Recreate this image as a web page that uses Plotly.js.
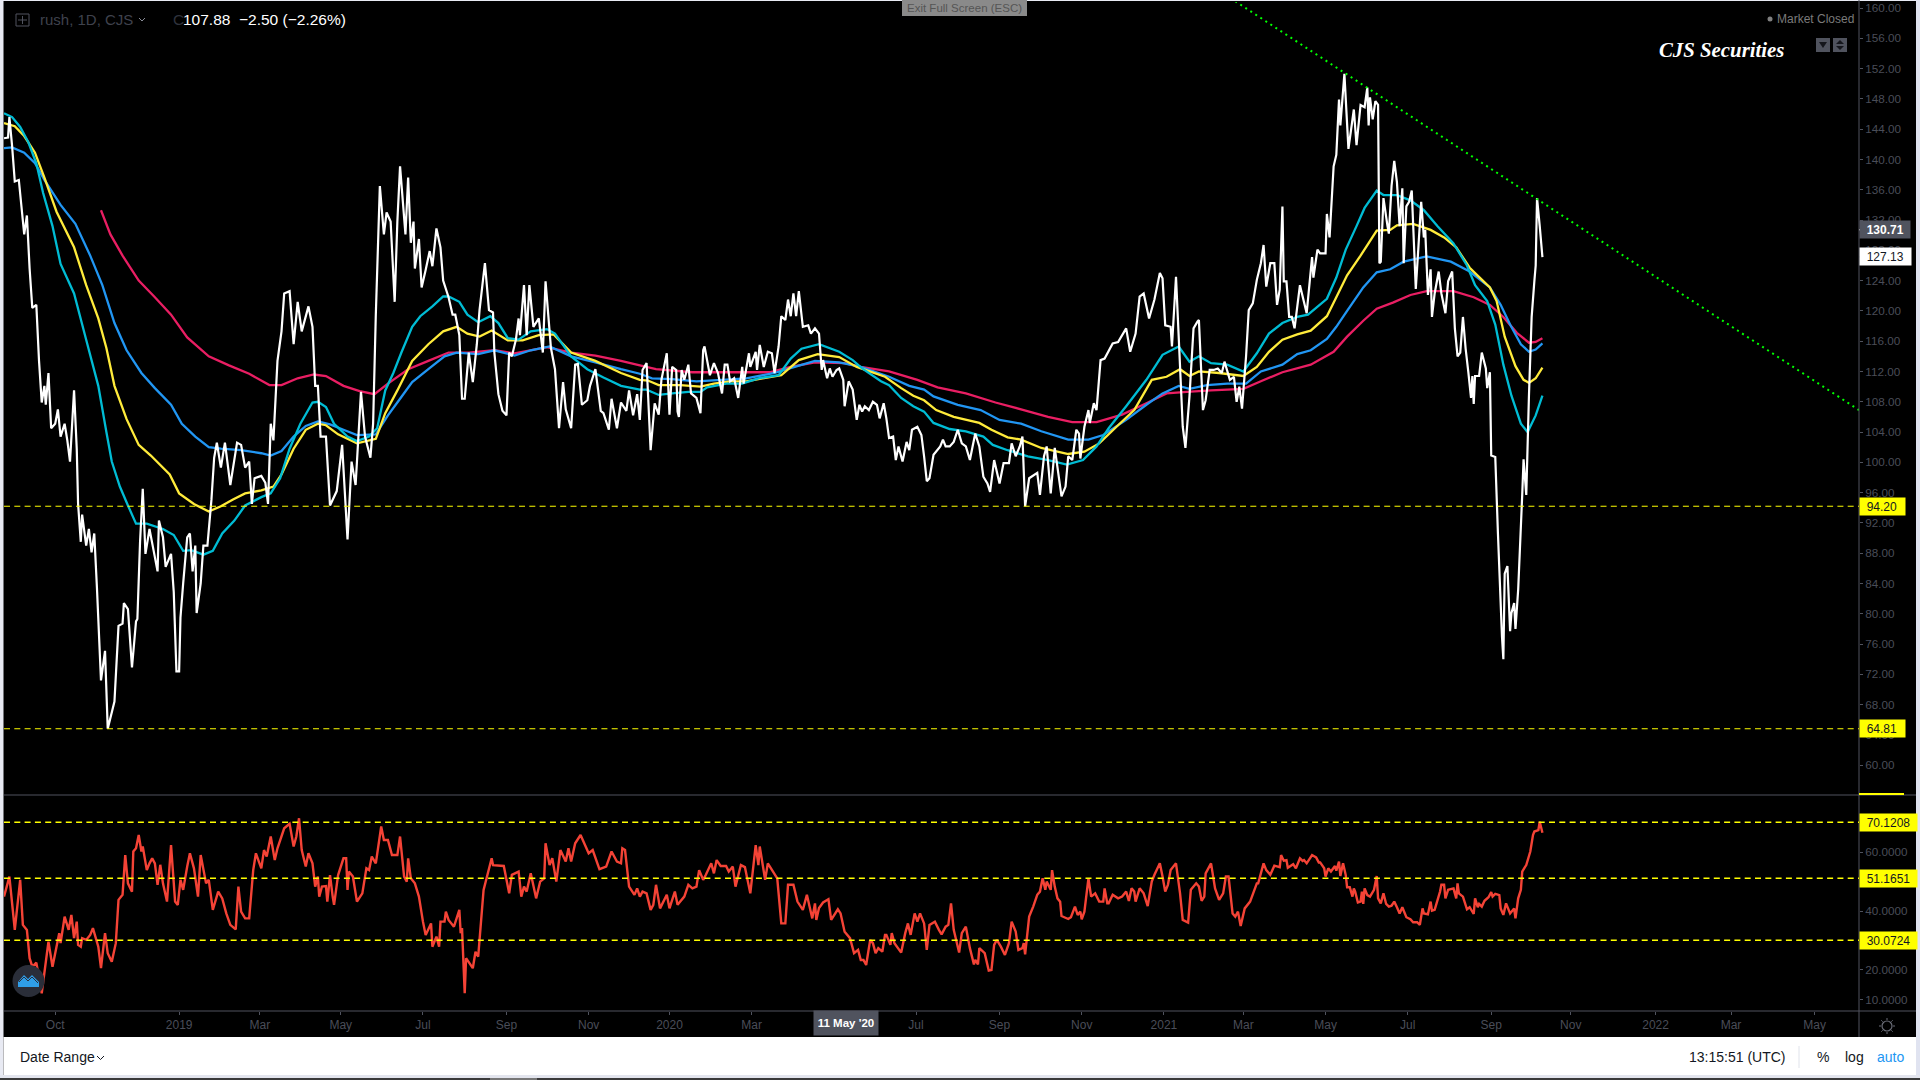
<!DOCTYPE html>
<html><head><meta charset="utf-8">
<script src="https://cdn.plot.ly/plotly-3.0.1.min.js"></script>
<style>html,body{margin:0;padding:0;background:#000;overflow:hidden}#c{width:1920px;height:1080px}</style>
</head><body><div id="c"></div>
<script>
// All day numbers count calendar days from this first date on the chart.
const firstDate = '2018-08-24';
const lastDate = '2022-06-01';

const closeDays = [
0,3,4,6,8,11,15,17,19,21,24,26,28,30,31,33,35,38,40,42,
45,47,49,52,54,55,57,58,61,63,65,67,69,72,75,77,82,85,88,89,
92,95,98,99,101,103,105,108,111,114,115,118,120,124,126,128,130,131,133,136,
138,140,142,143,146,148,151,154,156,158,161,164,168,173,176,179,182,184,186,191,
194,196,198,200,203,206,208,212,215,218,221,226,229,231,233,235,239,242,247,251,
255,258,261,265,268,272,274,276,279,282,284,287,290,292,294,298,300,302,304,305,
308,310,313,316,318,321,324,326,330,333,335,338,340,342,345,348,351,353,357,360,
363,364,367,370,373,375,377,380,382,383,386,388,390,393,397,400,402,406,409,412,
415,417,421,424,426,429,433,435,439,443,445,449,451,455,458,462,464,467,470,
472,474,477,480,483,486,488,492,494,496,499,500,501,503,505,508,510,514,517,519,
520,524,527,530,533,535,537,539,542,545,548,549,553,554,558,559,561,564,567,570,
572,575,577,580,582,584,586,588,590,593,597,599,602,605,607,608,611,613,615,618,
620,623,624,627,630,633,635,637,639,642,645,648,650,653,655,657,660,662,664,667,
670,672,674,678,681,683,685,687,690,695,697,699,702,705,708,711,714,717,719,721,
724,727,730,732,735,739,742,746,748,751,754,756,758,761,767,769,772,774,777,780,
785,788,790,793,796,798,799,802,805,806,809,811,814,817,823,827,833,836,840,843,
846,850,854,858,860,862,866,867,870,874,875,877,880,883,886,887,890,892,895,898,
901,904,906,910,913,915,917,919,922,924,927,930,933,935,937,940,943,945,947,
949,950,952,954,956,958,962,967,971,972,975,977,981,982,984,987,989,991,992,995,
998,1002,1004,1007,1010,1012,1013,1014,1016,1018,1020,1021,1022,1024,1027,1028,1030,1032,1034,1036,
1038,1039,1041,1043,1045,1048,1050,1052,1054,1055,1057,1059,1060,1062,1065,1067,1070,1072,1075,1077,
1079,1081,1083,1085,1087,1089,1090,1091,1092,1095,1097,1100,1101,1103,1104,1107,1109,1112,1113,1114,
1116,1118,1119,1121,1122,1124,1127,1128,1130,1132,1134,1136,1137,1138,1140,1142];
const closeValues = [
142.8,142.9,145.6,141.8,137.1,137.3,130.1,132.6,125.6,120.4,120.8,113.4,107.9,110.1,107.6,111.8,104.5,105.1,107.0,103.4,
105.1,102.9,100.1,109.5,101.8,94.5,89.5,93.1,89.0,91.2,88.1,90.6,83.4,71.2,75.1,64.8,68.4,78.4,78.7,81.4,
80.6,72.9,79.0,79.3,89.5,96.5,87.9,91.2,88.4,85.6,92.3,90.1,86.2,87.9,82.9,72.4,72.4,79.5,84.0,90.1,
90.6,85.6,89.0,80.1,84.0,89.0,89.0,95.1,100.6,102.6,99.3,102.6,97.0,102.6,102.3,99.3,100.1,94.5,97.9,98.2,
97.3,94.5,105.1,102.9,113.4,117.3,122.3,122.6,115.6,121.2,117.3,120.6,117.9,110.1,110.1,103.4,103.4,94.3,96.2,102.3,
89.8,100.1,97.0,109.3,103.4,100.6,105.1,119.5,136.5,130.1,133.0,131.8,121.2,131.8,139.1,130.1,137.6,129.0,131.8,125.6,
129.5,123.1,125.4,127.9,125.9,130.9,128.4,124.0,121.8,119.5,119.5,116.8,108.4,108.4,114.5,110.6,115.6,120.1,126.3,120.1,
119.8,114.5,109.0,106.8,106.2,114.5,114.0,116.2,119.0,116.8,123.4,116.8,123.4,117.9,119.0,114.5,123.9,115.1,112.3,104.5,
110.6,107.0,104.5,112.9,113.0,107.6,108.2,110.1,112.3,106.8,106.5,104.3,108.4,104.5,107.9,106.8,109.5,106.2,109.0,
105.6,112.2,113.1,101.6,107.8,106.3,110.9,114.4,106.3,112.6,112.2,106.7,106.0,112.2,110.9,112.9,109.1,108.5,106.5,114.8,
115.3,111.5,113.1,111.8,109.1,112.9,112.9,110.7,111.1,108.5,112.6,110.4,114.4,112.6,114.6,112.2,115.5,112.6,114.6,114.4,
111.8,115.3,119.3,118.8,121.5,119.3,122.3,119.3,122.6,117.9,118.1,117.0,117.7,117.0,112.2,113.5,111.1,112.4,111.3,112.2,
112.4,110.9,107.4,110.7,109.6,105.6,107.6,106.7,107.4,106.9,108.0,107.6,105.8,107.8,105.8,103.2,103.4,100.3,102.1,100.1,
102.7,101.6,104.3,104.7,103.6,100.8,97.5,97.9,101.0,102.1,103.0,102.1,102.1,102.7,104.3,102.5,102.1,100.3,102.1,103.8,
102.1,98.1,97.2,96.1,100.3,97.2,99.9,99.9,102.5,100.8,102.1,103.4,94.2,97.9,98.6,95.7,100.8,102.1,95.9,101.9,
95.5,96.8,100.8,100.3,104.3,103.8,100.5,104.7,106.9,105.2,107.8,106.9,113.5,113.7,115.7,115.9,117.7,114.6,117.0,121.9,
122.3,119.0,121.5,125.0,124.3,118.1,117.9,115.3,124.5,108.7,104.7,101.9,108.7,117.7,118.6,118.8,106.9,108.2,112.2,112.2,
112.4,111.8,113.3,110.9,111.3,108.0,110.0,107.1,114.0,120.1,121.0,124.1,126.3,128.7,123.2,126.3,126.3,120.8,122.8,
133.8,123.9,123.9,119.2,119.2,117.7,123.4,119.7,127.1,124.4,128.1,127.6,127.6,132.8,129.7,139.1,140.6,147.9,144.5,151.3,
141.4,146.6,141.9,147.2,146.9,149.5,144.5,148.2,145.3,147.7,147.2,126.3,126.5,134.9,131.2,130.2,136.5,139.8,137.0,131.2,
136.2,126.3,133.8,134.4,135.9,122.9,128.6,134.4,129.7,130.7,122.1,125.5,119.2,122.3,125.2,122.3,119.7,123.9,125.2,117.7,
114.0,114.5,119.2,115.0,111.9,108.5,111.4,107.7,111.4,111.4,114.5,112.4,109.8,111.9,100.9,100.7,90.5,76.9,74.0,85.3,
86.3,77.7,80.1,81.4,78.0,83.2,95.7,100.4,95.7,108.8,119.2,123.9,126.0,134.9,131.2,127.1];

const cyanDays = [0,6,12,18,24,29,36,42,52,61,70,76,80,86,92,98,106,118,126,133,139,148,155,162,171,179,191,198,205,212,220,229,233,239,245,255,262,271,277,283,289,295,303,309,318,326,330,338,344,352,361,367,374,382,391,403,409,421,433,445,458,472,477,486,496,508,517,522,536,548,560,575,584,592,605,620,630,637,651,657,666,675,683,690,702,714,727,734,745,760,775,789,801,811,820,833,848,860,872,880,887,896,908,920,930,939,949,960,968,982,989,996,1004,1010,1019,1024,1034,1044,1054,1064,1076,1086,1092,1101,1107,1113,1119,1126,1131,1137,1142];
const cyanValues = [146.1,145.6,144.3,142.3,139.5,135.6,131.2,126.2,122.3,116.2,110.1,104.0,100.1,96.8,94.3,91.9,91.9,91.2,90.4,88.3,88.4,87.8,88.3,90.6,92.3,94.3,95.4,95.9,97.9,101.8,105.1,107.9,108.0,107.3,105.1,103.4,102.8,103.4,104.5,109.5,111.8,114.5,117.9,119.3,120.6,121.9,121.9,121.2,119.5,118.5,119.3,118.4,116.4,116.2,117.3,117.6,117.0,114.0,112.3,111.2,110.1,109.6,109.6,108.9,109.1,109.3,109.3,109.9,110.4,110.4,111.1,111.5,113.7,115.0,115.6,114.6,113.5,112.4,110.7,110.2,108.5,107.4,106.7,105.2,104.4,104.1,103.4,102.3,101.6,100.8,100.3,99.7,100.3,102.1,104.5,107.4,110.9,114.2,115.3,113.3,114.0,113.1,112.9,112.0,114.4,117.0,118.4,119.2,119.5,121.6,124.4,128.1,131.2,133.6,135.9,135.3,135.3,134.6,133.3,131.2,128.9,126.0,123.4,121.3,118.2,112.9,108.8,105.1,104.0,106.2,108.8];

const yellowDays = [0,8,15,23,30,39,52,61,70,76,82,91,100,109,123,130,141,152,161,170,179,191,200,206,215,224,233,239,248,262,276,283,292,303,315,326,336,344,353,362,374,385,397,408,421,439,458,472,478,486,502,517,527,539,551,563,577,590,604,620,633,654,666,675,683,692,705,724,733,745,755,770,790,802,813,827,839,852,863,873,880,887,902,920,930,939,949,960,970,982,989,997,1007,1019,1029,1034,1046,1059,1069,1078,1088,1096,1103,1108,1114,1122,1128,1132,1137,1142];
const yellowValues = [144.8,144.4,143.1,140.9,137.6,133.1,128.4,123.4,119.0,115.1,110.1,105.7,102.3,100.9,98.4,95.9,94.5,93.5,94.2,95.1,95.9,96.3,96.8,98.4,101.8,104.3,105.1,104.9,103.7,102.5,103.1,106.5,109.5,113.4,115.6,117.3,117.9,117.0,116.6,117.4,116.1,116.1,116.8,116.9,114.5,113.4,111.8,110.9,110.8,110.2,110.2,110.0,110.4,110.7,110.7,111.1,111.5,113.5,114.3,113.9,112.6,111.3,109.8,108.8,108.2,106.9,106.0,105.2,104.3,103.3,103.0,101.9,101.1,101.4,102.5,104.9,106.9,110.9,111.3,112.3,111.4,112.0,111.8,111.4,112.6,114.6,116.2,116.9,117.4,119.3,121.8,124.7,127.3,130.6,130.7,131.3,131.5,130.7,129.7,128.4,125.7,124.3,123.1,121.3,116.6,112.7,110.9,110.5,111.1,112.5];

const blueDays = [0,6,15,23,30,42,53,64,73,82,91,102,112,124,132,142,152,161,176,191,198,206,215,224,233,242,252,262,276,285,294,303,315,327,336,352,364,379,391,405,421,439,458,472,481,496,514,533,551,572,587,602,620,636,657,672,683,690,708,725,739,755,770,790,805,816,833,848,860,872,880,893,908,922,933,949,960,970,982,989,997,1009,1019,1029,1039,1056,1074,1088,1103,1111,1118,1126,1132,1137,1142];
const blueValues = [141.5,141.6,140.9,139.5,137.3,134.0,131.5,127.3,123.4,118.4,114.8,111.8,109.8,107.6,105.1,103.4,102.0,101.8,101.6,101.2,100.9,101.5,103.4,104.8,105.4,105.0,104.3,103.6,103.7,106.2,108.4,110.6,112.3,114.0,114.5,114.3,114.8,114.1,114.8,115.3,114.0,113.2,112.3,111.7,111.1,111.0,110.7,110.9,111.1,111.8,112.6,113.4,113.2,112.6,111.3,110.1,109.6,108.7,107.6,106.9,105.6,105.1,104.1,103.0,103.0,103.6,105.6,107.6,109.1,110.1,109.7,110.2,110.4,110.4,112.0,112.9,114.3,114.8,116.3,117.9,120.0,123.1,125.1,125.5,126.5,127.2,126.5,125.2,123.1,120.8,118.2,115.6,114.6,114.9,115.7];

const pinkDays = [72,79,88,100,112,124,136,152,167,182,197,206,218,230,239,252,264,275,285,300,315,330,345,364,379,403,421,439,458,472,484,511,542,569,584,602,624,636,657,678,693,714,736,757,775,793,811,830,848,863,878,896,920,933,949,970,987,997,1009,1019,1031,1044,1056,1076,1091,1103,1113,1123,1132,1137,1142];
const pinkValues = [133.3,130.1,127.3,124.0,121.8,119.5,116.5,114.0,112.8,111.7,110.2,110.2,111.1,111.6,111.4,110.1,109.4,109.0,110.4,112.3,113.4,114.5,114.5,114.8,114.4,115.2,114.5,114.1,113.4,112.8,112.3,111.9,111.9,111.9,112.6,113.2,113.1,112.6,112.0,110.9,109.9,109.1,107.9,106.9,106.0,105.3,105.3,106.3,107.8,109.1,109.3,109.5,109.7,110.7,111.9,112.9,114.6,116.6,118.7,120.3,121.1,122.1,122.6,122.6,121.8,120.8,119.2,117.1,115.8,115.9,116.4];

const rsiDays = [
0,4,8,12,14,17,19,21,24,28,33,36,41,42,45,48,50,52,54,55,57,58,61,64,66,70,72,75,77,80,
83,85,88,90,92,95,96,98,100,102,103,106,108,110,112,114,116,118,121,124,127,129,131,133,136,138,141,144,146,150,
152,155,159,162,165,168,172,174,176,179,182,185,187,191,193,195,198,201,203,208,212,215,217,219,221,224,226,229,231,233,
234,236,239,240,242,244,245,248,252,254,255,256,259,262,266,269,271,273,276,280,282,285,288,292,294,297,299,300,302,305,
308,311,313,317,318,321,323,324,327,328,330,334,338,339,340,342,343,348,350,352,356,362,363,371,375,377,382,384,386,388,
391,395,398,401,402,405,407,410,413,417,419,421,424,428,434,437,442,447,451,455,458,459,461,464,468,470,472,
474,477,480,482,484,487,492,494,496,498,500,505,508,511,514,516,519,521,525,527,529,532,536,538,541,543,547,550,554,
558,560,561,565,567,574,577,580,582,586,589,593,596,600,602,603,605,608,612,614,619,621,624,628,631,634,636,638,640,643,
645,647,649,652,654,655,658,659,661,666,669,671,673,676,678,680,683,685,687,691,694,696,699,701,703,705,709,711,714,717,
720,721,723,724,728,731,733,735,737,740,743,746,748,751,753,756,757,758,761,764,767,769,771,773,774,777,778,780,782,784,
785,790,792,795,797,799,800,802,805,807,810,813,816,817,819,820,823,827,830,833,835,837,839,840,843,846,849,852,854,858,
860,862,864,866,870,873,875,879,881,885,887,889,891,892,896,899,902,905,907,909,912,914,916,918,921,925,930,931,935,937,
940,943,947,948,950,952,953,957,959,962,964,965,967,971,974,976,977,980,981,983,985,988,989,991,992,994,996,997,999,1001,
1002,1003,1005,1007,1008,1009,1010,1012,1014,1017,1019,1020,1022,1024,1026,1028,1030,1032,1034,1036,1038,1041,1044,1046,1049,1051,1053,1054,1057,1059,
1060,1062,1066,1067,1069,1070,1072,1076,1078,1079,1080,1083,1086,1088,1091,1092,1094,1095,1097,1099,1102,1104,1105,1107,1110,1111,1113,1115,1118,1121,
1122,1124,1126,1127,1129,1130,1133,1135,1136,1139,1140,1142];
const rsiValues = [
44.9,51.7,33.6,50.6,35.3,33.6,24.0,21.1,22.5,12.1,29.6,21.1,32.5,29.1,38.1,33.6,38.7,30.8,36.4,28.5,27.9,30.8,30.2,31.9,34.2,27.9,20.6,32.5,25.7,22.8,
29.1,43.8,45.5,59.0,49.4,46.6,60.2,61.3,65.8,60.2,61.9,53.9,56.2,57.9,56.2,48.9,55.7,49.4,43.2,62.4,43.2,42.1,50.6,47.2,55.1,59.6,54.5,44.9,59.0,49.4,
50.6,40.4,46.6,44.3,39.2,35.3,33.8,48.3,39.8,37.5,37.5,53.9,59.6,54.5,60.7,58.5,65.3,57.3,61.3,68.1,69.6,61.9,65.3,71.5,60.7,55.1,59.6,56.2,48.3,51.7,
44.9,48.3,48.5,43.2,52.2,44.9,42.1,52.2,57.9,57.9,47.2,53.4,51.7,43.2,46.0,54.5,53.9,58.5,56.2,68.7,64.1,64.1,59.0,59.0,65.3,51.7,50.0,57.9,51.1,49.4,
44.9,36.4,31.9,35.8,27.9,31.3,27.9,36.4,36.4,39.8,37.0,34.7,40.4,32.5,34.2,12.1,24.0,20.6,26.2,24.5,47.2,57.9,55.6,55.3,46.0,52.3,53.4,44.9,48.3,46.6,
52.8,44.3,50.0,51.1,63.0,55.6,57.9,50.0,60.7,56.8,61.3,56.8,63.0,65.8,59.6,60.7,54.2,55.1,60.2,56.8,56.2,61.3,60.7,48.3,45.5,47.7,44.9,
46.6,46.0,40.4,42.1,48.9,40.9,45.5,40.9,43.8,46.6,42.1,44.9,48.9,47.7,48.3,53.9,50.6,52.3,56.2,52.8,57.3,55.3,55.3,53.4,55.1,48.3,55.6,54.9,46.0,
62.4,55.6,61.9,50.6,56.2,51.1,35.8,35.8,48.9,48.9,43.2,40.4,45.5,37.5,42.6,37.0,41.0,42.9,44.0,37.0,40.6,39.2,33.0,30.8,25.7,26.8,23.4,23.4,21.7,30.2,
29.1,25.7,27.4,26.2,31.9,31.9,28.5,32.5,29.1,25.9,32.5,35.8,31.9,39.2,36.4,39.2,35.8,26.8,35.3,36.4,33.6,32.1,34.7,35.3,42.6,33.6,25.9,32.5,34.7,27.4,
21.9,23.4,21.9,27.4,25.7,19.8,20.0,28.5,30.2,27.9,25.1,29.1,36.4,33.0,26.8,27.4,29.1,25.3,38.1,41.5,45.5,46.6,51.1,47.2,50.0,47.2,53.9,48.3,44.3,43.2,
38.3,37.3,37.9,41.5,38.7,39.8,37.2,39.8,51.1,44.9,46.0,43.2,43.2,47.7,42.6,42.6,45.5,44.3,44.9,46.6,43.4,47.7,46.6,43.2,47.7,46.0,41.7,50.0,52.3,56.2,
51.7,46.6,48.9,53.9,56.2,46.0,37.0,36.1,47.2,49.4,48.3,43.5,44.9,52.8,56.2,47.7,43.8,46.0,51.7,51.7,39.2,38.1,39.8,34.9,40.9,43.2,49.4,49.4,56.2,53.9,
52.3,55.4,54.9,59.0,57.1,57.3,54.7,55.9,54.5,57.9,57.0,57.3,56.2,59.0,58.2,56.5,56.5,54.5,51.7,54.5,53.4,55.3,53.7,56.8,51.9,56.2,52.2,48.1,48.1,44.9,
47.7,46.6,42.9,43.2,46.6,42.4,47.7,45.4,44.9,47.2,51.9,44.3,42.6,46.0,42.4,41.5,41.8,43.2,41.3,39.2,41.3,37.9,37.2,36.2,36.2,35.3,40.9,39.2,38.9,43.2,
40.1,40.4,46.6,48.9,48.9,44.3,47.2,47.7,44.3,49.4,46.0,44.9,40.6,41.3,39.0,44.3,41.3,42.4,41.5,43.5,44.7,46.4,44.9,45.8,45.4,40.9,38.7,42.6,39.2,40.9,
37.5,44.3,47.2,53.4,54.9,55.6,60.2,65.8,67.0,67.5,70.3,66.6];

const trendDays = [914,1377];
const trendValues = [160.9,106.9];

const priceLevels = [94.20,64.81];
const rsiLevels = [70.1208,51.1651,30.0724];
const priceTicks = [60,64,68,72,76,80,84,88,92,96,100,104,108,112,116,120,124,128,132,136,140,144,148,152,156,160];
const rsiTicks = [10,20,40,60];
const timeTicks = ['2018-10-01','2019-01-01','2019-03-02','2019-05-01','2019-07-01','2019-09-01','2019-11-01','2019-12-31','2020-03-01','2020-07-01','2020-09-01','2020-11-01','2021-01-01','2021-03-01','2021-05-01','2021-07-01','2021-09-01','2021-10-30','2022-01-01','2022-02-26','2022-04-29'];
const timeLabels = ['Oct','2019','Mar','May','Jul','Sep','Nov','2020','Mar','Jul','Sep','Nov','2021','Mar','May','Jul','Sep','Nov','2022','Mar','May'];

const W=1920,H=1080;
const px=v=>v/W, py=v=>1-v/H;
const base=Date.parse(firstDate+'T00:00:00Z');
const toDate=d=>new Date(base+d*86400000).toISOString().slice(0,10);
const AXIS='#50535e', TXT='#4a4d58';
const SANS='"Liberation Sans", Arial, sans-serif';
const PANE_L=px(4), PANE_R=px(1859);

function line(days,vals,color,width,yaxis,extra){
  return Object.assign({type:'scatter',mode:'lines',x:days.map(toDate),y:vals,yaxis:yaxis,xaxis:'x',
    line:Object.assign({color:color,width:width,simplify:false},extra||{}),hoverinfo:'skip',showlegend:false});
}
const traces=[
  line(pinkDays,pinkValues,'#e91e63',2.3,'y'),
  line(blueDays,blueValues,'#2196f3',2.3,'y'),
  line(yellowDays,yellowValues,'#ffeb3b',2.3,'y'),
  line(cyanDays,cyanValues,'#00bcd4',2.3,'y'),
  line(closeDays,closeValues,'#ffffff',2.2,'y'),
  line(trendDays,trendValues,'#00ff00',2,'y',{dash:'2px,4px'}),
  line(rsiDays,rsiValues,'#f44336',2.4,'y2')
];

// decoration
const shapes=[];
const rect=(x0,y0,x1,y1,fill,extra)=>shapes.push(Object.assign({type:'rect',xref:'paper',yref:'paper',x0:px(x0),x1:px(x1),y0:py(y0),y1:py(y1),fillcolor:fill,line:{width:0},layer:'above'},extra||{}));
const seg=(x0,y0,x1,y1,color,w)=>shapes.push({type:'line',xref:'paper',yref:'paper',x0:px(x0),x1:px(x1),y0:py(y0),y1:py(y1),line:{color:color,width:w||1},layer:'above'});
const poly=(pts,fill,stroke,w)=>shapes.push({type:'path',xref:'paper',yref:'paper',path:'M'+pts.map(p=>px(p[0])+','+py(p[1])).join('L')+(fill?'Z':''),fillcolor:fill||'rgba(0,0,0,0)',line:{color:stroke||'rgba(0,0,0,0)',width:w||0},layer:'above'});
const circ=(cx,cy,r,fill,stroke,w)=>shapes.push({type:'circle',xref:'paper',yref:'paper',x0:px(cx-r),x1:px(cx+r),y0:py(cy+r),y1:py(cy-r),fillcolor:fill,line:{color:stroke||'rgba(0,0,0,0)',width:w||0},layer:'above'});

rect(0,0,3.5,1080,'#e8eaf3');
rect(0,0,1920,1,'#e8eaf3');
rect(1916,0,1920,1080,'#e0e3f0');
rect(3.5,1037,1916,1075,'#ffffff');
rect(0,1075,1920,1078,'#e3e5ee');
rect(0,1078,1920,1080,'#3a3a3a');
rect(490,1078,537,1080,'#777777');
seg(1859,0,1859,1037,AXIS,1);
seg(4,795,1916,795,AXIS,1);
seg(4,1011,1916,1011,AXIS,1);
seg(1799,1046,1799,1068,'#e0e3eb',1);
rect(1859,793,1904,795,'#ffff00');
// level lines
priceLevels.forEach(v=>shapes.push({type:'line',xref:'paper',yref:'y',x0:PANE_L,x1:PANE_R,y0:v,y1:v,line:{color:'#ffff00',width:1,dash:'6px,4.3px'},layer:'above'}));
rsiLevels.forEach(v=>shapes.push({type:'line',xref:'paper',yref:'y2',x0:PANE_L,x1:PANE_R,y0:v,y1:v,line:{color:'#ffff00',width:1.5,dash:'6px,4.3px'},layer:'above'}));
// layout icon top-left
rect(16,14,29,26,'rgba(0,0,0,0)',{line:{color:'#50535e',width:1}});
seg(22.5,16,22.5,24,'#50535e',1); seg(18,20,27,20,'#50535e',1);
seg(139,18,142,21,'#8a8d98',1); seg(142,21,145,18,'#8a8d98',1);
// pane buttons
rect(1816,38,1830,52,'#50535e'); rect(1833,38,1847,52,'#50535e');
poly([[1819,42],[1827,42],[1823,48]],'#15161c');
poly([[1836,44],[1844,44],[1840,40]],'#15161c');
poly([[1836,46],[1844,46],[1840,50]],'#15161c');
circ(1770,19,2.5,'#808080');
// watermark
circ(28.5,981,16,'#2a2e39');
poly([[18,987],[18,982],[24,975],[28,979],[32,975],[39,982],[39,987]],'#2f9ee8');
poly([[19,982],[24,977],[28,981],[32,977],[38,983]],null,'#2a2e39',1);
// exit button
rect(902,0,1027,16,'#8a8a8a');
// chevrons
seg(97,1056,100.5,1059.5,'#131722',1); seg(100.5,1059.5,104,1056,'#131722',1);
// gear
circ(1887,1026,5,'rgba(0,0,0,0)','#6a6d78',1.2);
[[0,-8,0,-6],[0,8,0,6],[-8,0,-6,0],[8,0,6,0],[-5.7,-5.7,-4.3,-4.3],[5.7,-5.7,4.3,-4.3],[-5.7,5.7,-4.3,4.3],[5.7,5.7,4.3,4.3]].forEach(s=>seg(1887+s[0],1026+s[1],1887+s[2],1026+s[3],'#6a6d78',1));

const annotations=[];
const txt=(x,y,text,size,color,opt)=>annotations.push(Object.assign({xref:'paper',yref:'paper',x:px(x),y:py(y),text:text,showarrow:false,xanchor:'left',yanchor:'middle',font:{family:SANS,size:size,color:color},borderpad:0,borderwidth:0},opt||{}));
function tag(yref,v,text,bg,fg,w,bold){
  const lab='\u00a0\u00a0'+text;
  annotations.push({xref:'paper',yref:yref,x:px(1859),y:v,text:bold?'<b>'+lab+'</b>':lab,showarrow:false,xanchor:'left',yanchor:'middle',
    bgcolor:bg,width:w,height:17,align:'left',borderpad:0,font:{family:SANS,size:12,color:fg}});
  shapes.push({type:'line',xref:'paper',yref:yref,x0:px(1859),x1:px(1863),y0:v,y1:v,line:{color:fg,width:1},layer:'above'});
}
txt(39.5,20,'rush, 1D, CJS',15,'#3f424d');
txt(173,20,'C',15.5,'#2f323c');
txt(183,20,'107.88 \u00a0\u22122.50 (\u22122.26%)',15.5,'#ffffff');
txt(1777,19,'Market Closed',12,'#7a7a7a');
txt(1659,50,'<b><i>CJS Securities</i></b>',20.8,'#ffffff',{font:{family:'"Liberation Serif", serif',size:20.8,color:'#ffffff'}});
txt(964.5,8,'Exit Full Screen (ESC)',11.5,'#555555',{xanchor:'center'});
txt(20,1057,'Date Range',14,'#131722');
txt(1689,1057,'13:15:51 (UTC)',14,'#131722');
txt(1817,1057,'%',14,'#131722');
txt(1845,1057,'log',14,'#131722');
txt(1877,1057,'auto',14,'#2196f3');
annotations.push({xref:'paper',yref:'paper',x:px(846),y:py(1023),text:"<b>11 May '20</b>",showarrow:false,xanchor:'center',yanchor:'middle',bgcolor:AXIS,width:62,height:22,font:{family:SANS,size:11.5,color:'#ffffff'}});
tag('y',130.71,'130.71',AXIS,'#ffffff',50,true);
tag('y',127.13,'127.13','#ffffff','#131722',51);
priceLevels.forEach(v=>tag('y',v,v.toFixed(2),'#ffff00','#131722',45));
rsiLevels.forEach(v=>tag('y2',v,v.toFixed(4),'#ffff00','#131722',57));

const layout={
  width:W,height:H,margin:{l:0,r:0,t:0,b:0,pad:0},paper_bgcolor:'#000',plot_bgcolor:'#000',
  showlegend:false,hovermode:false,dragmode:false,
  font:{family:SANS,color:TXT},
  xaxis:{type:'date',domain:[PANE_L,PANE_R],range:[firstDate,lastDate],anchor:'y2',tickmode:'array',tickvals:timeTicks,ticktext:timeLabels,
    ticks:'outside',ticklen:3,tickcolor:AXIS,tickwidth:1,ticklabelstandoff:3.5,tickfont:{family:SANS,size:12,color:TXT},showgrid:false,zeroline:false,showline:false},
  yaxis:{domain:[py(795),py(2)],range:[56.06,160.8],anchor:'x',side:'right',tickmode:'array',tickvals:priceTicks,tickformat:'.2f',
    ticks:'outside',ticklen:3,tickcolor:AXIS,ticklabelshift:1.5,tickfont:{family:SANS,size:11.7,color:TXT},showgrid:false,zeroline:false,showline:false},
  yaxis2:{domain:[py(1011),py(796)],range:[6.07,79.05],anchor:'x',side:'right',tickmode:'array',tickvals:rsiTicks,tickformat:'.4f',
    ticks:'outside',ticklen:3,tickcolor:AXIS,ticklabelshift:1.5,tickfont:{family:SANS,size:11.7,color:TXT},showgrid:false,zeroline:false,showline:false},
  shapes:shapes,annotations:annotations
};
Plotly.newPlot('c',traces,layout,{staticPlot:true,displayModeBar:false,responsive:false});
</script></body></html>
